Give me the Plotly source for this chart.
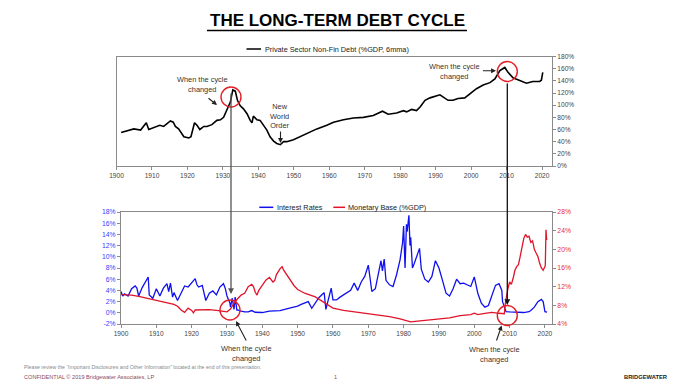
import plotly.graph_objects as go

W, H = 684, 391

# ---------------- data ----------------
debt_years = [1901.3, 1904.9, 1906.8, 1908.4, 1909.1, 1910.5, 1912.2, 1913.3, 1915.2, 1916.0, 1916.6,
              1917.5, 1918.0, 1919.0, 1920.4, 1921.0, 1922.0, 1922.7, 1923.5, 1924.6, 1925.5, 1926.9,
              1928.3, 1929.3, 1930.2, 1931.1, 1932.1, 1932.8, 1933.5, 1934.1, 1934.9, 1935.8, 1936.8,
              1937.7, 1938.2, 1938.6, 1939.6, 1940.5, 1941.5, 1942.4, 1943.3, 1944.3, 1945.2, 1946.2,
              1947.1, 1948.0, 1949.9, 1951.8, 1953.7, 1956.5, 1959.3, 1961.2, 1964.0, 1966.8, 1969.6,
              1972.4, 1975.0, 1976.6, 1979.0, 1980.9, 1981.8, 1983.2, 1984.6, 1985.6, 1987.0, 1988.4,
              1991.2, 1992.1, 1993.5, 1994.9, 1996.3, 1998.2, 1999.6, 2001.5, 2003.4, 2005.3, 2006.7,
              2008.1, 2009.5, 2010.4, 2011.8, 2013.7, 2015.6, 2017.4, 2019.3, 2019.8, 2020.2]
debt_values = [55, 61, 59, 71, 60, 63, 67, 65, 74, 72, 65,
               61, 56, 48, 46, 48, 71, 67, 60, 65, 65, 68,
               75, 76, 80, 91, 105, 125, 123, 108, 99, 94, 86,
               75, 71, 82, 76, 75, 67, 59, 48, 41, 37, 35,
               40, 40, 43, 48, 54, 61, 67, 72, 76, 79, 80,
               83, 90, 85, 87, 91, 89, 93, 91, 97, 108, 112,
               117, 113, 108, 108, 111, 112, 118, 127, 133, 137, 143,
               157, 162, 154, 145, 140, 136, 139, 139, 141, 154]

rate_years = [1900, 1900.5, 1901, 1902, 1903, 1904, 1904.5, 1905, 1906, 1907, 1907.7, 1908, 1909, 1910,
              1911, 1912, 1913, 1913.5, 1914, 1914.6, 1915, 1916, 1917, 1918, 1919, 1920, 1921, 1921.5,
              1922, 1923, 1924, 1925, 1926, 1927, 1928, 1929, 1929.5, 1930, 1930.8, 1931, 1931.5, 1932,
              1932.3, 1932.8, 1933, 1934, 1935, 1936, 1937, 1938, 1940, 1942, 1945, 1948, 1950, 1951,
              1952, 1953, 1954, 1955, 1956, 1957, 1957.5, 1958, 1959.5, 1960, 1961, 1962, 1963, 1964,
              1965, 1966, 1967, 1968, 1969, 1970, 1970.5, 1971, 1972, 1973, 1973.6, 1974, 1974.5, 1975,
              1976, 1977, 1978, 1979, 1979.7, 1980, 1980.4, 1980.8, 1981, 1981.5, 1981.8, 1982, 1982.5,
              1983, 1984, 1984.5, 1985, 1986, 1987, 1988, 1989, 1990, 1991, 1992, 1993, 1994, 1995,
              1996, 1997, 1998, 1999, 2000, 2001, 2002, 2003, 2004, 2005, 2006, 2007, 2007.8, 2008,
              2008.6, 2009, 2010, 2012, 2014, 2015.5, 2016, 2017, 2018, 2019, 2019.5, 2020, 2020.6]
rate_values = [3.8, 3.0, 3.4, 3.0, 4.3, 4.8, 4.4, 3.0, 4.5, 5.5, 6.4, 3.2, 2.6, 4.3,
               3.0, 4.4, 5.2, 3.8, 5.3, 2.8, 3.6, 2.2, 3.5, 4.8, 4.6, 5.4, 6.1, 5.0,
               4.6, 4.9, 2.2, 3.5, 3.9, 3.2, 4.6, 5.2, 4.4, 3.0, 1.8, 1.0, 2.6, 0.6,
               2.8, 0.5, 0.5, 0.3, 0.15, 0.15, 0.4, 0.1, 0.05, 0.3, 0.38, 0.9, 1.2, 1.5,
               1.7, 2.0, 0.8, 1.7, 2.7, 3.3, 3.6, 0.6, 4.4, 2.3, 2.3, 2.8, 3.2, 3.5,
               4.0, 5.3, 4.0, 5.5, 6.5, 8.5, 6.0, 3.8, 4.3, 7.5, 9.3, 7.5, 9.6, 5.8,
               5.0, 4.7, 6.8, 9.5, 12.5, 15.5, 8.0, 15.8, 14.5, 17.4, 12.0, 13.5, 8.0,
               8.8, 10.5, 11.5, 7.8, 6.0, 5.5, 6.5, 9.3, 8.0, 5.8, 3.5, 3.0, 4.3, 6.0,
               5.2, 5.3, 5.0, 4.7, 6.4, 3.5, 1.7, 1.0, 1.3, 3.2, 4.9, 5.2, 4.0, 2.0,
               1.0, 0.2, 0.15, 0.1, 0.05, 0.2, 0.4, 1.0, 2.0, 2.4, 2.0, 0.2, 0.1]

mb_years = [1900, 1903, 1905, 1908, 1910, 1913, 1915, 1916, 1917, 1918, 1919, 1920, 1920.5, 1921,
            1923, 1925, 1927, 1929, 1930, 1931, 1932, 1933, 1934, 1935, 1936, 1937, 1937.5, 1938,
            1938.5, 1939, 1940, 1941, 1942, 1943, 1943.5, 1944, 1945, 1945.6, 1946, 1947, 1948, 1949,
            1950, 1952, 1955, 1957, 1958, 1960, 1963, 1966, 1970, 1973, 1976, 1979, 1981, 1982, 1984,
            1987, 1990, 1993, 1996, 1999, 2000, 2001, 2003, 2005, 2007, 2008.5, 2008.8, 2009, 2009.5,
            2010, 2010.5, 2011, 2011.5, 2012, 2012.5, 2013, 2013.5, 2014, 2014.5, 2015, 2015.5, 2016,
            2016.5, 2017, 2017.5, 2018, 2018.5, 2019, 2019.5, 2019.8, 2020.1, 2020.3, 2020.5]
mb_values = [10.3, 10.2, 9.9, 9.4, 9.0, 8.5, 8.2, 7.8, 7.0, 6.5, 7.4, 6.9, 6.4, 7.0,
             7.1, 7.1, 6.9, 6.7, 6.6, 7.2, 8.5, 9.4, 10.2, 10.6, 12.0, 12.5, 12.0, 10.8,
             10.2, 11.2, 12.2, 13.4, 14.0, 13.0, 13.3, 14.6, 15.8, 16.3, 15.6, 14.5, 13.2, 12.2,
             11.4, 10.6, 9.8, 8.9, 8.4, 7.4, 6.9, 6.6, 6.1, 5.9, 5.6, 5.1, 4.7, 4.45, 4.6,
             4.8, 5.0, 5.3, 5.8, 6.0, 6.3, 6.0, 6.3, 6.5, 6.3, 6.2, 8.5, 9.6, 11.5,
             13.0, 12.5, 13.8, 15.5, 16.3, 16.7, 18.5, 20.5, 22.3, 23.2, 22.6, 22.8, 21.5,
             21.8, 20.0, 19.2, 18.5, 17.0, 16.0, 15.5, 16.2, 16.5, 24.2, 22.0]

year_ticks = list(range(1900, 2021, 10))
debt_ticks = list(range(0, 181, 20))
rate_ticks = list(range(-2, 19, 2))
mb_ticks = list(range(4, 29, 4))

# ---------------- helpers ----------------
def px(x):
    return x / W

def py(y):
    return 1 - y / H

FONT = "Liberation Sans, Arial, sans-serif"
BLUE = "#1010ee"
RED = "#e0142a"
AXC = "#8a8a8a"

fig = go.Figure()

fig.add_trace(go.Scatter(x=debt_years, y=debt_values, mode="lines",
                         line=dict(color="black", width=1.6), xaxis="x", yaxis="y",
                         showlegend=False, hoverinfo="skip"))
fig.add_trace(go.Scatter(x=rate_years, y=rate_values, mode="lines",
                         line=dict(color=BLUE, width=1.3), xaxis="x2", yaxis="y2",
                         showlegend=False, hoverinfo="skip"))
fig.add_trace(go.Scatter(x=mb_years, y=mb_values, mode="lines",
                         line=dict(color=RED, width=1.3), xaxis="x2", yaxis="y3",
                         showlegend=False, hoverinfo="skip"))

tickfont = dict(family=FONT, size=6.6, color="#444444")
axis_common = dict(showgrid=False, zeroline=False, showline=True, linecolor=AXC, linewidth=1,
                   ticks="outside", ticklen=3, tickcolor=AXC, tickfont=tickfont)

fig.update_layout(
    template="none",
    width=W, height=H, margin=dict(l=0, r=0, t=0, b=0),
    paper_bgcolor="white", plot_bgcolor="white",
    font=dict(family=FONT, color="#333333"),
    xaxis=dict(domain=[px(116.5), px(552)], range=[1900, 2022.8], tickvals=year_ticks,
               anchor="y", mirror=True, **axis_common),
    yaxis=dict(domain=[py(166), py(56.5)], range=[0, 180], side="right", anchor="x",
               tickvals=debt_ticks, ticktext=[f"{v}%" for v in debt_ticks], mirror=True,
               **axis_common),
    xaxis2=dict(domain=[px(121), px(552)], range=[1900, 2022], tickvals=year_ticks,
                anchor="y2", mirror=True, **axis_common),
    yaxis2=dict(domain=[py(324), py(212)], range=[-2, 18], side="left", anchor="x2",
                tickvals=rate_ticks, ticktext=[f"{v}%" for v in rate_ticks], mirror=True,
                **{**axis_common, "tickfont": dict(family=FONT, size=6.8, color="#3a3aff")}),
    yaxis3=dict(range=[4, 28], overlaying="y2", side="right", anchor="x2",
                tickvals=mb_ticks, ticktext=[f"{v}%" for v in mb_ticks],
                **{**axis_common, "tickfont": dict(family=FONT, size=6.8, color="#e8303a")}),
)

shapes = []
annotations = []

def text_at(x, y, text, font, xanchor="center"):
    annotations.append(dict(x=px(x), y=py(y), xref="paper", yref="paper", text=text,
                            showarrow=False, xanchor=xanchor, yanchor="middle",
                            font=font, align="center"))

# title
text_at(337, 20.5, "<b>THE LONG-TERM DEBT CYCLE</b>", dict(family=FONT, size=17, color="#000000"))
shapes.append(dict(type="line", xref="paper", yref="paper", x0=px(207), x1=px(467),
                   y0=py(30.5), y1=py(30.5), line=dict(color="black", width=1.5)))

# legends (manual)
leg_font = dict(family=FONT, size=7.3, color="#222222")
shapes.append(dict(type="line", xref="paper", yref="paper", x0=px(246.5), x1=px(261),
                   y0=py(49), y1=py(49), line=dict(color="black", width=1.5)))
text_at(263, 49, "Private Sector Non-Fin Debt (%GDP, 6mma)", leg_font, "left")
shapes.append(dict(type="line", xref="paper", yref="paper", x0=px(259.3), x1=px(273.3),
                   y0=py(207.3), y1=py(207.3), line=dict(color=BLUE, width=1.5)))
text_at(275, 207.3, "Interest Rates", leg_font, "left")
shapes.append(dict(type="line", xref="paper", yref="paper", x0=px(333.3), x1=px(345),
                   y0=py(207.3), y1=py(207.3), line=dict(color=RED, width=1.5)))
text_at(346, 207.3, "Monetary Base (%GDP)", leg_font, "left")

# circles
for cx, cy in [(231, 97), (507.3, 71.5), (230, 310), (507.3, 315.5)]:
    r = 10
    shapes.append(dict(type="circle", xref="paper", yref="paper",
                       x0=px(cx - r), x1=px(cx + r), y0=py(cy + r), y1=py(cy - r),
                       line=dict(color="#e41e26", width=1.4)))

ann_font = dict(family=FONT, size=7.4, color="#333333")

def arrow(hx, hy, tx, ty, color="#222222", width=1.1):
    annotations.append(dict(x=px(hx), y=py(hy), xref="paper", yref="paper", text="",
                            showarrow=True, ax=tx - hx, ay=ty - hy, arrowhead=2,
                            arrowsize=0.9, arrowwidth=width, arrowcolor=color))

# vertical connector lines
arrow(231, 294, 231, 92, color="#555555", width=1.3)
arrow(507.3, 305, 507.3, 82, color="#111111", width=1.3)

# top annotations
text_at(202.5, 85, "When the cycle<br>changed", ann_font)
arrow(217, 105, 207, 97)
text_at(454, 71, "When the cycle<br>changed", ann_font)
arrow(496, 70.7, 481.5, 70.7)
text_at(279.5, 116.5, "New<br>World<br>Order", ann_font)
arrow(280.5, 143, 280.5, 130)

# bottom annotations
text_at(246.7, 353, "When the cycle<br>changed", ann_font)
arrow(236, 321, 247, 342)
text_at(494.5, 354.5, "When the cycle<br>changed", ann_font)
arrow(501.7, 325.5, 496, 342)

# footer
text_at(22, 366.5,
        "Please review the \u201cImportant Disclosures and Other Information\u201d located at the end of this presentation.",
        dict(family=FONT, size=5.2, color="#8a8a8a"), "left")
text_at(22, 377, "CONFIDENTIAL \u00a9 2019 Bridgewater Associates, LP",
        dict(family=FONT, size=5.6, color="#8c4a5c"), "left")
text_at(335, 377, "1", dict(family=FONT, size=5.6, color="#8c4a5c"))
text_at(670, 377, "<b>BRIDGEWATER</b>", dict(family=FONT, size=5.8, color="#222222"), "right")

fig.update_layout(shapes=shapes, annotations=annotations)

fig.write_html("out.html",
               config={"displayModeBar": False, "staticPlot": True},
               post_script="document.body.style.margin='0';document.body.style.overflow='hidden';")
